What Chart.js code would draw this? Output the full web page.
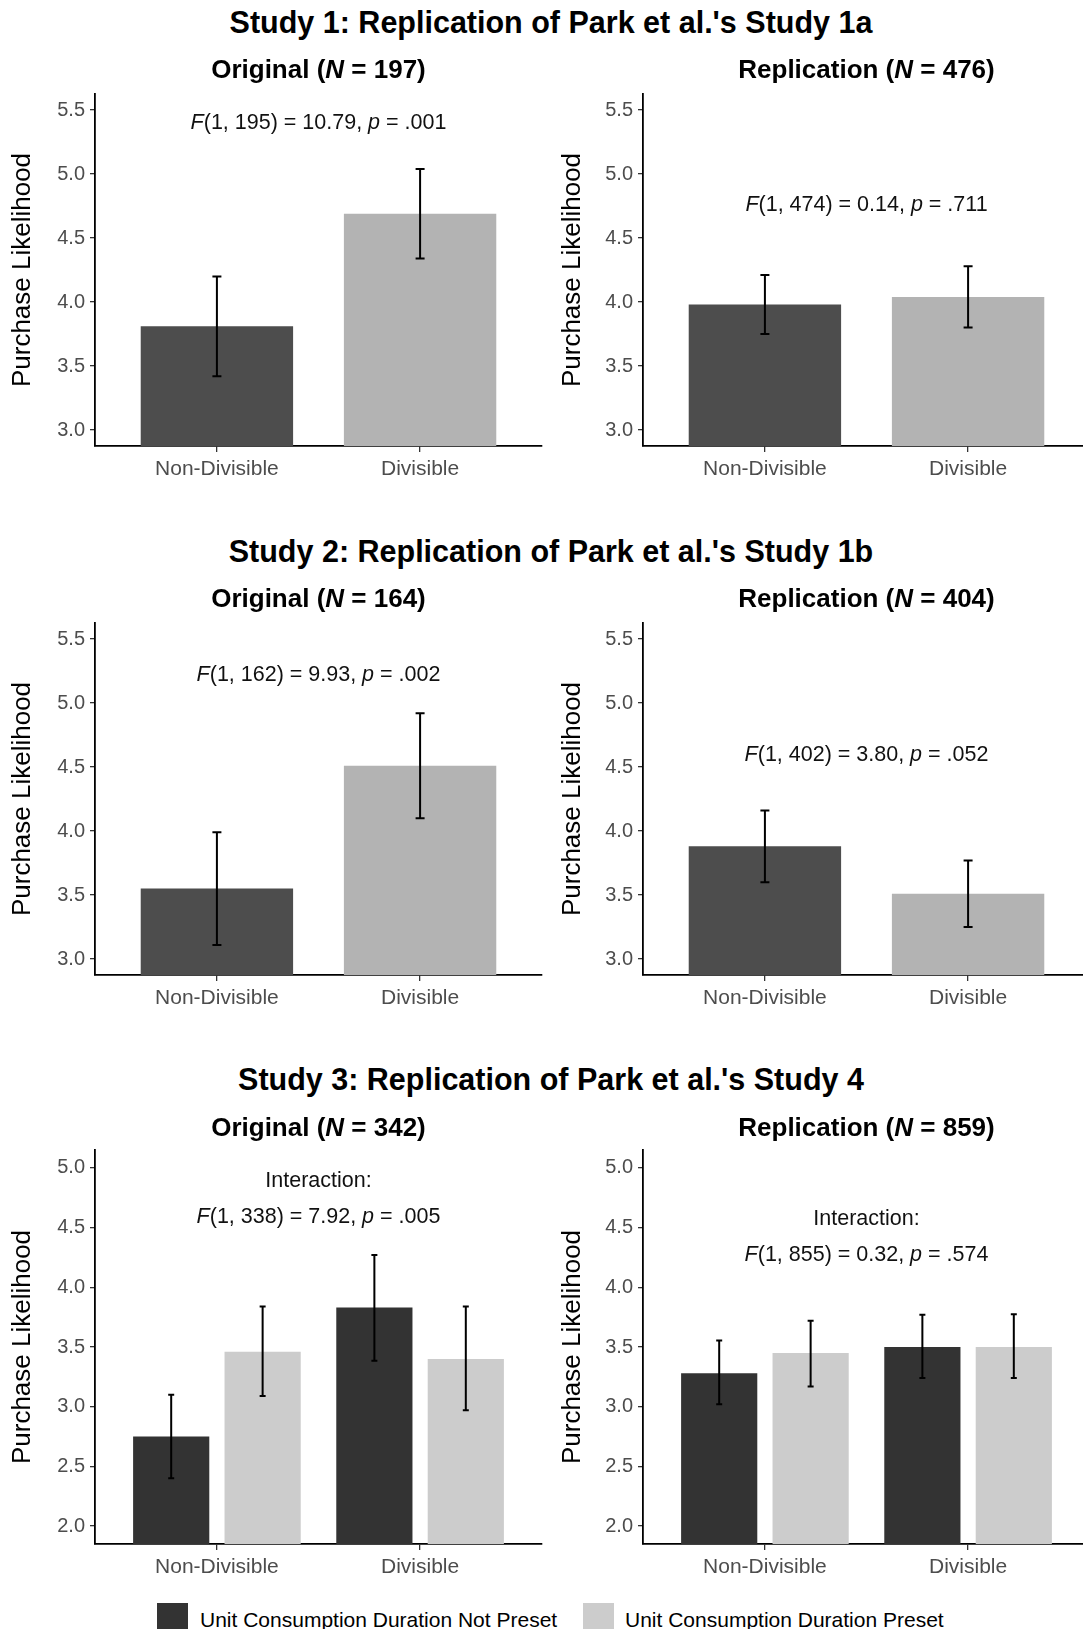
<!DOCTYPE html>
<html>
<head>
<meta charset="utf-8">
<script src="https://cdn.jsdelivr.net/npm/chart.js@4.4.1/dist/chart.umd.min.js"></script>
<style>
html, body { margin:0; padding:0; background:#fff; width:1083px; height:1629px; overflow:hidden; }
#page { position:relative; width:1083px; height:1629px; overflow:hidden; background:#fff;
  font-family:'Liberation Sans', Arial, Helvetica, sans-serif; }
.cv { position:absolute; }
.txt { position:absolute; white-space:nowrap; line-height:1; color:#000; z-index:5; }
.title { font-weight:bold; font-size:30.5px; text-align:center; width:800px; }
.sub { font-weight:bold; font-size:26px; text-align:center; width:500px; }
.key { position:absolute; width:31px; height:30px; z-index:5; }
.ltxt { font-size:21px; color:#000; }
</style>
</head>
<body>
<div id="page"></div>
<script>
// ---------------- DATA ----------------
const categories = ['Non-Divisible', 'Divisible'];
const categoryPositions = [1, 2];

const studyTitles = [
  "Study 1: Replication of Park et al.'s Study 1a",
  "Study 2: Replication of Park et al.'s Study 1b",
  "Study 3: Replication of Park et al.'s Study 4"
];
const panelLabels = ['Original', 'Replication'];
const sampleSizes = [[197, 476], [164, 404], [342, 859]];

const yTicksStudy12 = [3.0, 3.5, 4.0, 4.5, 5.0, 5.5];
const yTicksStudy3  = [2.0, 2.5, 3.0, 3.5, 4.0, 4.5, 5.0];
const yLimitsStudy12 = [2.875, 5.625];
const yLimitsStudy3  = [1.85, 5.15];

// Study 1
const s1OrigMean = [3.81, 4.69];
const s1OrigLow  = [3.42, 4.34];
const s1OrigHigh = [4.20, 5.04];
const s1ReplMean = [3.98, 4.04];
const s1ReplLow  = [3.75, 3.80];
const s1ReplHigh = [4.21, 4.28];

// Study 2
const s2OrigMean = [3.55, 4.51];
const s2OrigLow  = [3.11, 4.10];
const s2OrigHigh = [3.99, 4.92];
const s2ReplMean = [3.88, 3.51];
const s2ReplLow  = [3.60, 3.25];
const s2ReplHigh = [4.16, 3.77];

// Study 3 (two series)
const seriesLabels = ['Unit Consumption Duration Not Preset', 'Unit Consumption Duration Preset'];
const s3OrigNotPreset     = [2.75, 3.83];
const s3OrigNotPresetLow  = [2.40, 3.385];
const s3OrigNotPresetHigh = [3.10, 4.27];
const s3OrigPreset        = [3.46, 3.40];
const s3OrigPresetLow     = [3.09, 2.97];
const s3OrigPresetHigh    = [3.84, 3.84];
const s3ReplNotPreset     = [3.28, 3.50];
const s3ReplNotPresetLow  = [3.02, 3.24];
const s3ReplNotPresetHigh = [3.555, 3.77];
const s3ReplPreset        = [3.45, 3.50];
const s3ReplPresetLow     = [3.17, 3.24];
const s3ReplPresetHigh    = [3.72, 3.775];

// Statistics annotations (*x* = italic)
const annotationTexts = [
  ['*F*(1, 195) = 10.79, *p* = .001'],
  ['*F*(1, 474) = 0.14, *p* = .711'],
  ['*F*(1, 162) = 9.93, *p* = .002'],
  ['*F*(1, 402) = 3.80, *p* = .052'],
  ['Interaction:', '*F*(1, 338) = 7.92, *p* = .005'],
  ['Interaction:', '*F*(1, 855) = 0.32, *p* = .574']
];
const annotationY = [5.40, 4.755, 5.215, 4.59, 4.74, 4.42];
const annotationX = 1.5;

// ---------------- STYLE / LAYOUT ----------------
const FONT = "'Liberation Sans', Arial, Helvetica, sans-serif";
const colors12 = ['#4d4d4d', '#b3b3b3'];
const colors3 = ['#333333', '#cccccc'];
const page = document.getElementById('page');

const rows = [
  { canvasTop: 74,   height: 417, titleBase: 32.5, subBase: 78 },
  { canvasTop: 603,  height: 417, titleBase: 561.5, subBase: 607 },
  { canvasTop: 1130, height: 459, titleBase: 1090, subBase: 1135.6 }
];
const cols = [
  { left: 0,   width: 560, yWidth: 95, padRight: 18, center: 318.5 },
  { left: 550, width: 550, yWidth: 93, padRight: 10, center: 866.5 }
];

function parseRich(str) {
  const parts = str.split('*');
  return parts.map((t, i) => ({ t, it: i % 2 === 1 })).filter(p => p.t.length);
}

const errorBarPlugin = {
  id: 'errorBars',
  afterDatasetsDraw(chart, args, opts) {
    const ctx = chart.ctx, ys = chart.scales.y;
    ctx.save();
    ctx.strokeStyle = '#000';
    ctx.lineWidth = opts.lineWidth || 2;
    chart.data.datasets.forEach((ds, di) => {
      const meta = chart.getDatasetMeta(di);
      meta.data.forEach((bar, i) => {
        const lo = ys.getPixelForValue(ds.errLow[i]);
        const hi = ys.getPixelForValue(ds.errHigh[i]);
        const c = (opts.cap || 8) / 2;
        ctx.beginPath();
        ctx.moveTo(bar.x, lo); ctx.lineTo(bar.x, hi);
        ctx.moveTo(bar.x - c, lo); ctx.lineTo(bar.x + c, lo);
        ctx.moveTo(bar.x - c, hi); ctx.lineTo(bar.x + c, hi);
        ctx.stroke();
      });
    });
    ctx.restore();
  }
};

const annotationPlugin = {
  id: 'statText',
  afterDraw(chart, args, opts) {
    if (!opts.lines) return;
    const ctx = chart.ctx;
    const cx = chart.scales.x.getPixelForValue(opts.x);
    const cy = chart.scales.y.getPixelForValue(opts.y);
    const n = opts.lines.length;
    ctx.save();
    ctx.fillStyle = '#111';
    ctx.textBaseline = 'middle';
    ctx.textAlign = 'left';
    opts.lines.forEach((line, li) => {
      const segs = parseRich(line);
      const fontFor = s => (s.it ? 'italic ' : '') + opts.size + 'px ' + FONT;
      let total = 0;
      segs.forEach(s => { ctx.font = fontFor(s); s.w = ctx.measureText(s.t).width; total += s.w; });
      let x = cx - total / 2;
      const y = cy + (li - (n - 1) / 2) * opts.gap;
      segs.forEach(s => { ctx.font = fontFor(s); ctx.fillText(s.t, x, y); x += s.w; });
    });
    ctx.restore();
  }
};

function addText(cls, html, left, top) {
  const d = document.createElement('div');
  d.className = 'txt ' + cls;
  d.innerHTML = html;
  d.style.left = left + 'px';
  d.style.top = top + 'px';
  page.appendChild(d);
  return d;
}

function makePanel(rowIdx, colIdx, datasets, yLim, yTicks, annIdx, cap) {
  const row = rows[rowIdx], col = cols[colIdx];
  const cv = document.createElement('canvas');
  cv.className = 'cv';
  cv.width = col.width; cv.height = row.height;
  cv.style.left = col.left + 'px'; cv.style.top = row.canvasTop + 'px';
  cv.style.width = col.width + 'px'; cv.style.height = row.height + 'px';
  page.appendChild(cv);

  new Chart(cv.getContext('2d'), {
    type: 'bar',
    data: { datasets },
    plugins: [errorBarPlugin, annotationPlugin],
    options: {
      responsive: false, animation: false, devicePixelRatio: 1,
      layout: { padding: { top: 20, left: 0, right: col.padRight, bottom: 0 } },
      plugins: {
        legend: { display: false }, tooltip: { enabled: false },
        errorBars: { lineWidth: 2, cap },
        statText: { lines: annotationTexts[annIdx], x: annotationX, y: annotationY[annIdx], size: 21.5, gap: 35.5 }
      },
      scales: {
        x: {
          type: 'linear', min: 0.4, max: 2.6, offset: false,
          afterBuildTicks: s => { s.ticks = categoryPositions.map(v => ({ value: v })); },
          afterFit: s => { s.height = 45; },
          ticks: { callback: v => categories[categoryPositions.indexOf(v)], font: { family: FONT, size: 21 },
                   color: '#4d4d4d', padding: 5, maxRotation: 0, autoSkip: false },
          grid: { display: true, drawOnChartArea: false, drawTicks: true, tickLength: 6, offset: false,
                  color: '#333333', lineWidth: 1.3 },
          border: { display: true, color: '#000', width: 1.8 }
        },
        y: {
          type: 'linear', min: yLim[0], max: yLim[1],
          afterBuildTicks: s => { s.ticks = yTicks.map(v => ({ value: v })); },
          afterFit: s => { s.width = col.yWidth; },
          ticks: { callback: v => Number(v).toFixed(1), font: { family: FONT, size: 20 }, color: '#4d4d4d', padding: 5 },
          grid: { display: true, drawOnChartArea: false, drawTicks: true, tickLength: 5, color: '#333333', lineWidth: 1.3 },
          border: { display: true, color: '#000', width: 1.8 },
          title: { display: true, text: 'Purchase Likelihood', color: '#000',
                   font: { family: FONT, size: 26 }, padding: { top: 7.4, bottom: 0 } }
        }
      }
    }
  });
}

function pts(vals) { return vals.map((v, i) => ({ x: categoryPositions[i], y: v })); }
function singleSet(mean, low, high) {
  return [{ data: pts(mean), errLow: low, errHigh: high, backgroundColor: colors12, borderWidth: 0,
            categoryPercentage: 0.9, barPercentage: 0.8333, clip: 0 }];
}
function pairSets(a, aLo, aHi, b, bLo, bHi) {
  return [
    { label: seriesLabels[0], data: pts(a), errLow: aLo, errHigh: aHi, backgroundColor: colors3[0], borderWidth: 0,
      categoryPercentage: 0.9, barPercentage: 0.8333, clip: 0 },
    { label: seriesLabels[1], data: pts(b), errLow: bLo, errHigh: bHi, backgroundColor: colors3[1], borderWidth: 0,
      categoryPercentage: 0.9, barPercentage: 0.8333, clip: 0 }
  ];
}

makePanel(0, 0, singleSet(s1OrigMean, s1OrigLow, s1OrigHigh), yLimitsStudy12, yTicksStudy12, 0, 9);
makePanel(0, 1, singleSet(s1ReplMean, s1ReplLow, s1ReplHigh), yLimitsStudy12, yTicksStudy12, 1, 9);
makePanel(1, 0, singleSet(s2OrigMean, s2OrigLow, s2OrigHigh), yLimitsStudy12, yTicksStudy12, 2, 9);
makePanel(1, 1, singleSet(s2ReplMean, s2ReplLow, s2ReplHigh), yLimitsStudy12, yTicksStudy12, 3, 9);
makePanel(2, 0, pairSets(s3OrigNotPreset, s3OrigNotPresetLow, s3OrigNotPresetHigh,
                         s3OrigPreset, s3OrigPresetLow, s3OrigPresetHigh), yLimitsStudy3, yTicksStudy3, 4, 6);
makePanel(2, 1, pairSets(s3ReplNotPreset, s3ReplNotPresetLow, s3ReplNotPresetHigh,
                         s3ReplPreset, s3ReplPresetLow, s3ReplPresetHigh), yLimitsStudy3, yTicksStudy3, 5, 6);

// titles and panel subtitles (baseline for line-height 1 ~ 0.8465em)
rows.forEach((row, r) => {
  addText('title', studyTitles[r], 551 - 400, row.titleBase - 0.8465 * 30.5);
  cols.forEach((col, c) => {
    addText('sub', panelLabels[c] + ' (<i>N</i> = ' + sampleSizes[r][c] + ')',
            col.center - 250, row.subBase - 0.8465 * 26);
  });
});

// legend
const legendItems = [
  { color: colors3[0], text: seriesLabels[0], keyLeft: 157, textLeft: 200 },
  { color: colors3[1], text: seriesLabels[1], keyLeft: 583, textLeft: 625 }
];
legendItems.forEach(it => {
  const k = document.createElement('div');
  k.className = 'key';
  k.style.left = it.keyLeft + 'px'; k.style.top = '1603px'; k.style.background = it.color;
  page.appendChild(k);
  addText('ltxt', it.text, it.textLeft, 1626.5 - 0.8465 * 21);
});
</script>
</body>
</html>
